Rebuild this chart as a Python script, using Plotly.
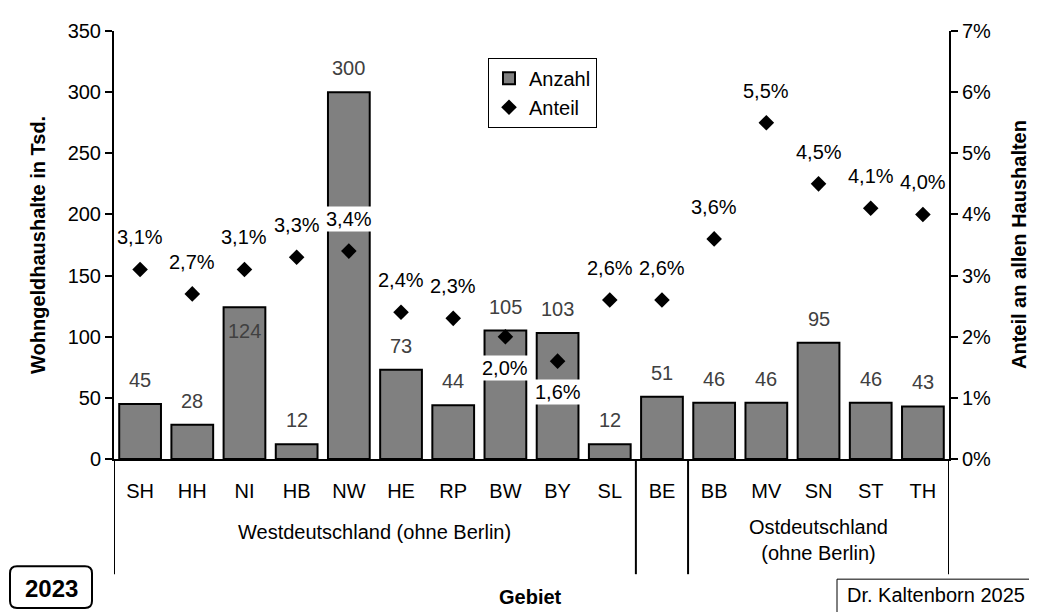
import plotly.graph_objects as go

# ---- data ----
categories = ["SH", "HH", "NI", "HB", "NW", "HE", "RP", "BW", "BY", "SL",
              "BE", "BB", "MV", "SN", "ST", "TH"]
anzahl = [45, 28, 124, 12, 300, 73, 44, 105, 103, 12, 51, 46, 46, 95, 46, 43]
anteil_pct = [3.1, 2.7, 3.1, 3.3, 3.4, 2.4, 2.3, 2.0, 1.6, 2.6, 2.6, 3.6, 5.5, 4.5, 4.1, 4.0]
label_inside = ["NI"]
pct_below = ["BW", "BY"]
pct_boxed = ["NW", "BW", "BY"]
groups = [("Westdeutschland (ohne Berlin)", "SH", "SL", 533),
          ("Ostdeutschland<br>(ohne Berlin)", "BB", "TH", 541)]
separators_after = ["SL", "BE"]

FONT = "Liberation Sans, Arial, sans-serif"
FS = 20
anteil = [v / 100 for v in anteil_pct]

# page body has an 8px margin -> figure is drawn 8px shifted
OFF = 8
W, H = 1037 - OFF, 612 - OFF
L, T = 114 - OFF, 28 - OFF
PW, PH = 835, 431


def px(x):
    return (x - 114) / PW


def py(y):
    return (459 - y) / PH


fig = go.Figure()
fig.add_trace(go.Bar(
    x=categories, y=anzahl, name="Anzahl",
    marker=dict(color="#808080", line=dict(color="black", width=2)),
    yaxis="y",
))
fig.add_trace(go.Scatter(
    x=categories, y=anteil, name="Anteil", mode="markers",
    marker=dict(symbol="diamond", size=12, color="black"),
    yaxis="y2",
))

ann = []
for c, v in zip(categories, anzahl):
    ann.append(dict(x=c, y=v, xref="x", yref="y", text=str(v), showarrow=False,
                    xanchor="center", yanchor="middle",
                    yshift=(-24 if c in label_inside else 24),
                    font=dict(color="#404040", size=FS, family=FONT)))
for c, v in zip(categories, anteil_pct):
    txt = f"{v:.1f}%".replace(".", ",")
    ann.append(dict(x=c, y=v / 100, xref="x", yref="y2", text=txt, showarrow=False,
                    xanchor="center", yanchor="middle",
                    yshift=(-31 if c in pct_below else 32),
                    bgcolor=("white" if c in pct_boxed else None), borderpad=1,
                    font=dict(color="black", size=FS, family=FONT)))

idx = {c: i for i, c in enumerate(categories)}
for name, a, b, yc in groups:
    ann.append(dict(x=(idx[a] + idx[b]) / 2, y=py(yc), xref="x", yref="paper", text=name,
                    xanchor="center", yanchor="middle",
                    showarrow=False, font=dict(size=FS, family=FONT)))

# axis titles and extra texts
ann.append(dict(x=px(38), y=0.5, xref="paper", yref="paper", text="<b>Wohngeldhaushalte in Tsd.</b>",
                xanchor="center", yanchor="middle",
                textangle=-90, showarrow=False, font=dict(size=20, family=FONT)))
ann.append(dict(x=px(1019), y=0.5, xref="paper", yref="paper", text="<b>Anteil an allen Haushalten</b>",
                xanchor="center", yanchor="middle",
                textangle=-90, showarrow=False, font=dict(size=20, family=FONT)))
ann.append(dict(x=px(530), y=py(598), xref="paper", yref="paper",
                xanchor="center", yanchor="middle",
                text="<b>Gebiet</b>", showarrow=False, font=dict(size=20, family=FONT)))
ann.append(dict(x=px(52), y=py(589), xref="paper", yref="paper",
                xanchor="center", yanchor="middle",
                text="<b>2023</b>", showarrow=False, font=dict(size=24, family=FONT)))
ann.append(dict(x=px(845), y=py(596), xref="paper", yref="paper",
                xanchor="left", yanchor="middle", text="Dr. Kaltenborn 2025", showarrow=False,
                font=dict(size=FS, family=FONT)))

shapes = []
ybot = py(575)
for xv in [-0.5, 15.5] + [idx[c] + 0.5 for c in separators_after]:
    shapes.append(dict(type="line", xref="x", yref="paper", x0=xv, x1=xv, y0=0, y1=ybot,
                       line=dict(color="black", width=2)))

# box around the author note (runs off the page edge)
shapes.append(dict(type="rect", xref="paper", yref="paper", x0=px(837), x1=px(1060),
                   y0=py(580), y1=py(630), line=dict(color="black", width=1),
                   fillcolor="white", layer="below"))

# rounded box around 2023
x0, x1, y0, y1, r = 10, 92, 567, 609, 7
path = (f"M {px(x0 + r)},{py(y0)} L {px(x1 - r)},{py(y0)} Q {px(x1)},{py(y0)} {px(x1)},{py(y0 + r)} "
        f"L {px(x1)},{py(y1 - r)} Q {px(x1)},{py(y1)} {px(x1 - r)},{py(y1)} "
        f"L {px(x0 + r)},{py(y1)} Q {px(x0)},{py(y1)} {px(x0)},{py(y1 - r)} "
        f"L {px(x0)},{py(y0 + r)} Q {px(x0)},{py(y0)} {px(x0 + r)},{py(y0)} Z")
shapes.append(dict(type="path", xref="paper", yref="paper", path=path,
                   line=dict(color="black", width=2)))

fig.update_layout(
    width=W, height=H,
    margin=dict(l=L, r=W - L - PW, t=T, b=H - T - PH, pad=0),
    paper_bgcolor="white", plot_bgcolor="white",
    separators=",.",
    font=dict(family=FONT, size=FS, color="black"),
    bargap=0.2,
    showlegend=True,
    legend=dict(x=px(488), y=py(55), xanchor="left", yanchor="top",
                bordercolor="black", borderwidth=1, bgcolor="white",
                font=dict(size=FS, family=FONT), itemwidth=30, tracegroupgap=0),
    xaxis=dict(type="category", range=[-0.5, 15.5], showline=True, linecolor="black",
               linewidth=2, ticks="outside", ticklen=13, tickcolor="rgba(0,0,0,0)",
               showgrid=False, zeroline=False, tickfont=dict(size=FS)),
    yaxis=dict(range=[0, 350], dtick=50, showline=True, linecolor="black", linewidth=2,
               ticks="outside", ticklen=7, tickwidth=2, tickcolor="black",
               showgrid=False, zeroline=False, tickfont=dict(size=FS)),
    yaxis2=dict(range=[0, 0.07], dtick=0.01, tickformat=".0%", overlaying="y", side="right",
                showline=True, linecolor="black", linewidth=2, ticks="outside", ticklen=7,
                tickwidth=2, tickcolor="black", showgrid=False, zeroline=False,
                tickfont=dict(size=FS)),
    annotations=ann,
    shapes=shapes,
)

fig.write_html("out.html")
